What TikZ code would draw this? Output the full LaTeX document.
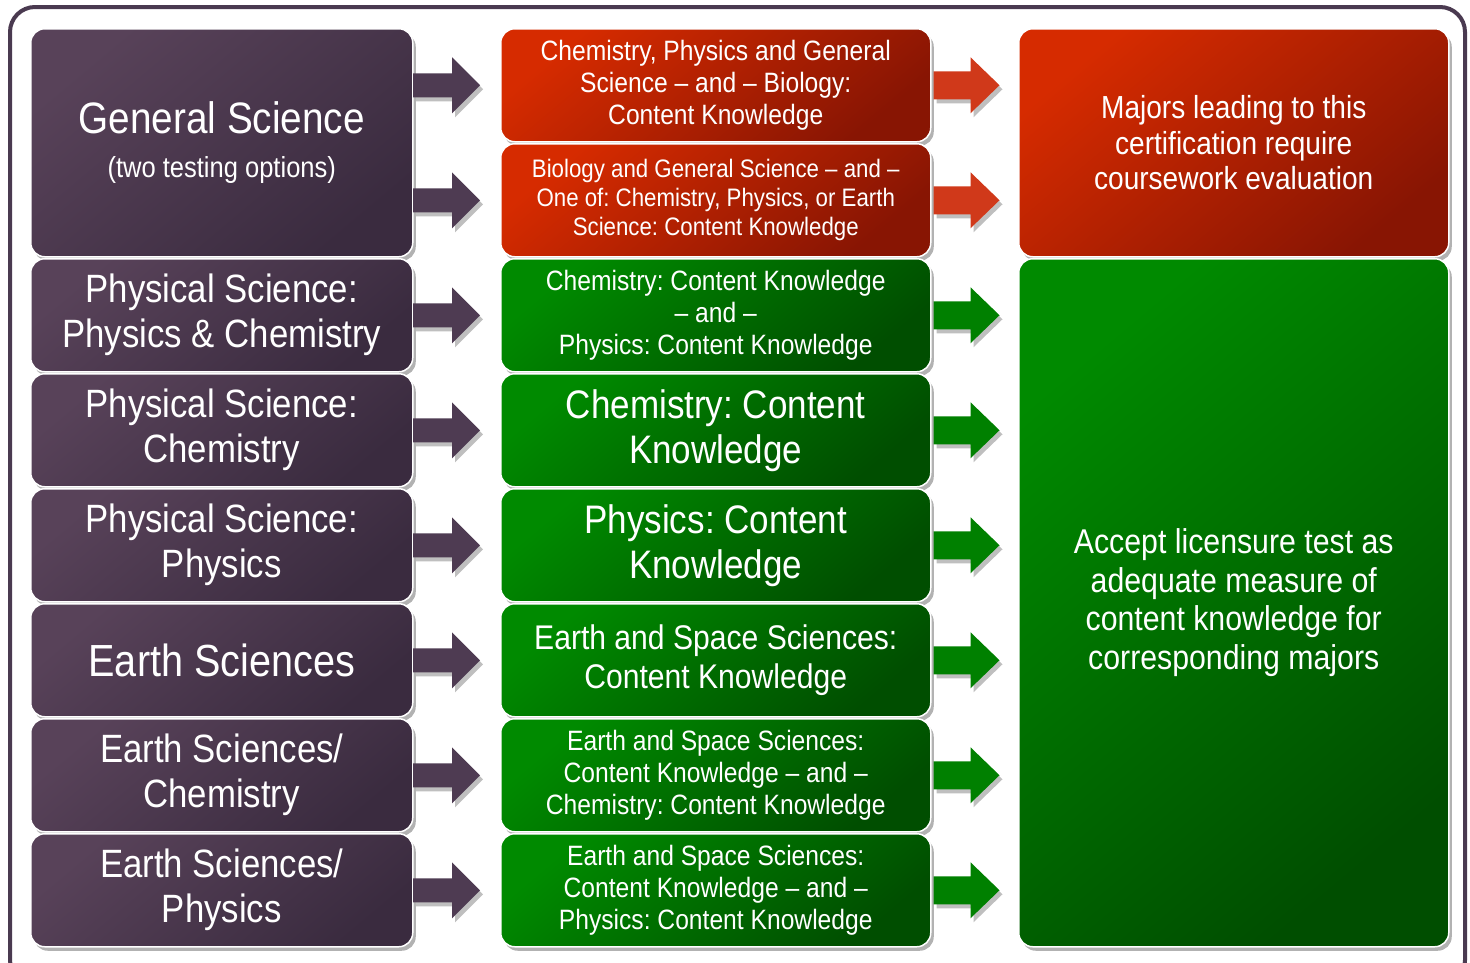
\documentclass[tikz,border=0pt]{standalone}
\usepackage{fontspec}
\setmainfont{Liberation Sans}[FakeStretch=0.88]
\usetikzlibrary{shadows,calc}
\frenchspacing
\definecolor{purL}{HTML}{584259}
\definecolor{purD}{HTML}{3A2B3F}
\definecolor{redL}{HTML}{D62B00}
\definecolor{redD}{HTML}{881503}
\definecolor{grnL}{HTML}{008A00}
\definecolor{grnD}{HTML}{004E00}
\definecolor{framec}{HTML}{4A3A50}
\definecolor{arrP}{HTML}{4E3B52}
\definecolor{arrR}{HTML}{D0391A}
\definecolor{arrG}{HTML}{008000}
\tikzset{
  box/.style={draw=white, line width=1.5pt, rounded corners=14pt, anchor=north west,
    text=white, align=center, inner sep=0pt,
    drop shadow={shadow xshift=3pt, shadow yshift=-4pt, opacity=0.3, fill=black}},
  purbox/.style={box, shading=axis, top color=purL, bottom color=purD, shading angle=40},
  redbox/.style={box, shading=axis, top color=redL, bottom color=redD, shading angle=40},
  grnbox/.style={box, shading=axis, top color=grnL, bottom color=grnD, shading angle=40},
  leftcol/.style={minimum width=382pt, minimum height=113pt},
  midcol/.style={minimum width=430pt, minimum height=113pt},
  arrshadow/.style={drop shadow={shadow xshift=3pt, shadow yshift=-4pt, opacity=0.25, fill=black}},
  fA/.style={font=\frenchspacing\fontsize{39.5}{45}\selectfont},
  fS/.style={font=\frenchspacing\fontsize{28}{32}\selectfont},
  fT/.style={font=\frenchspacing\fontsize{25.3}{29}\selectfont},
  fB/.style={font=\frenchspacing\fontsize{39.8}{45}\selectfont},
  fM/.style={font=\frenchspacing\fontsize{34.2}{39}\selectfont},
}
\newcommand\inarrow[2]{\fill[#2, arrshadow, shift={(#1.west)}] (-87,-12) -- (-48,-12) -- (-48,-28) -- (-20,0) -- (-48,28) -- (-48,12) -- (-87,12) -- cycle;}
\newcommand\outarrow[2]{\fill[#2, arrshadow, shift={(#1.east)}] (2,-14) -- (39,-14) -- (39,-28) -- (68,0) -- (39,28) -- (39,14) -- (2,14) -- cycle;}
\begin{document}
\begin{tikzpicture}[x=1pt, y=-1pt]
\useasboundingbox (0,0) rectangle (1470,962);
\fill[white] (0,0) rectangle (1470,962);
\draw[framec, line width=4pt, rounded corners=25pt] (10,7) rectangle (1465,985);

% left column
\node[purbox, minimum width=382pt, minimum height=228pt, font=\fontsize{29}{44}\selectfont] (l1) at (30,28)
  {{\fontsize{44}{44}\selectfont General Science}\\(two testing options)};
\node[purbox, leftcol, fA] (l3) at (30,258) {Physical Science:\\Physics \& Chemistry};
\node[purbox, leftcol, fA] (l4) at (30,373) {Physical Science:\\Chemistry};
\node[purbox, leftcol, fA] (l5) at (30,488) {Physical Science:\\Physics};
\node[purbox, leftcol, font=\fontsize{45}{50}\selectfont] (l6) at (30,603) {Earth Sciences};
\node[purbox, leftcol, fA] (l7) at (30,718) {Earth Sciences/\\Chemistry};
\node[purbox, leftcol, fA] (l8) at (30,833) {Earth Sciences/\\Physics};

% middle column
\node[redbox, midcol, fS] (m1) at (500,28) {Chemistry, Physics and General\\Science – and – Biology:\\Content Knowledge};
\node[redbox, midcol, fT] (m2) at (500,143) {Biology and General Science – and –\\One of: Chemistry, Physics, or Earth\\Science: Content Knowledge};
\node[grnbox, midcol, fS] (m3) at (500,258) {Chemistry: Content Knowledge\\– and –\\Physics: Content Knowledge};
\node[grnbox, midcol, fB] (m4) at (500,373) {Chemistry: Content\\Knowledge};
\node[grnbox, midcol, fB] (m5) at (500,488) {Physics: Content\\Knowledge};
\node[grnbox, midcol, fM] (m6) at (500,603) {Earth and Space Sciences:\\Content Knowledge};
\node[grnbox, midcol, fS] (m7) at (500,718) {Earth and Space Sciences:\\Content Knowledge – and –\\Chemistry: Content Knowledge};
\node[grnbox, midcol, fS] (m8) at (500,833) {Earth and Space Sciences:\\Content Knowledge – and –\\Physics: Content Knowledge};

% right column
\node[redbox, minimum width=430pt, minimum height=228pt, font=\fontsize{31.9}{35.5}\selectfont] (r1) at (1018,28)
  {Majors leading to this\\certification require\\coursework evaluation};
\node[grnbox, minimum width=430pt, minimum height=688pt, font=\fontsize{34.4}{38.5}\selectfont] (r2) at (1018,258)
  {Accept licensure test as\\adequate measure of\\content knowledge for\\corresponding majors};

% arrows into middle boxes
\inarrow{m1}{arrP}
\inarrow{m2}{arrP}
\inarrow{m3}{arrP}
\inarrow{m4}{arrP}
\inarrow{m5}{arrP}
\inarrow{m6}{arrP}
\inarrow{m7}{arrP}
\inarrow{m8}{arrP}
% arrows out of middle boxes
\outarrow{m1}{arrR}
\outarrow{m2}{arrR}
\outarrow{m3}{arrG}
\outarrow{m4}{arrG}
\outarrow{m5}{arrG}
\outarrow{m6}{arrG}
\outarrow{m7}{arrG}
\outarrow{m8}{arrG}
\end{tikzpicture}
\end{document}
